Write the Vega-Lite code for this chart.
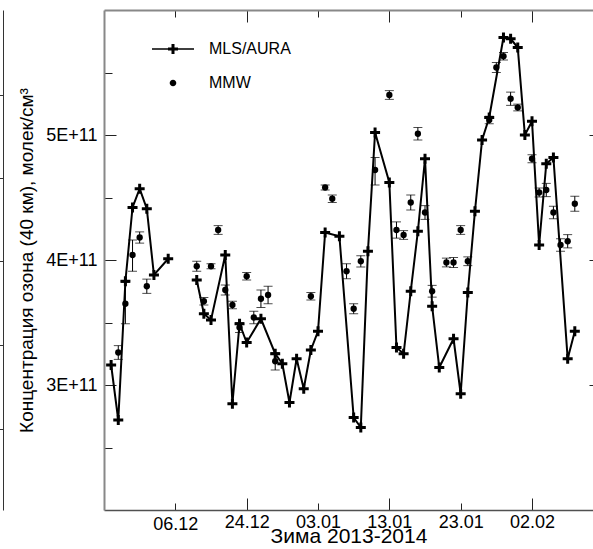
{
  "$schema": "https://vega.github.io/schema/vega-lite/v6.json",
  "width": 489,
  "height": 500,
  "autosize": {"type": "none"},
  "padding": {"left": 104, "top": 10, "right": 0, "bottom": 39},
  "background": "white",
  "config": {
    "font": "Liberation Sans",
    "view": {"stroke": null},
    "legend": {
      "orient": "none",
      "legendX": 61,
      "legendY": 31,
      "padding": 0,
      "labelFont": "Liberation Sans",
      "labelFontSize": 16,
      "labelColor": "black",
      "rowPadding": 18,
      "symbolSize": 100,
      "symbolOffset": 0,
      "labelOffset": 28,
      "labelLimit": 200
    }
  },
  "datasets": {
    "mls": [
      {"day": 5, "o3": 3.16e11, "seg": 1, "series": "MLS/AURA"},
      {"day": 6, "o3": 2.72e11, "seg": 1, "series": "MLS/AURA"},
      {"day": 7, "o3": 3.83e11, "seg": 1, "series": "MLS/AURA"},
      {"day": 8, "o3": 4.42e11, "seg": 1, "series": "MLS/AURA"},
      {"day": 9, "o3": 4.57e11, "seg": 1, "series": "MLS/AURA"},
      {"day": 10, "o3": 4.41e11, "seg": 1, "series": "MLS/AURA"},
      {"day": 11, "o3": 3.88e11, "seg": 1, "series": "MLS/AURA"},
      {"day": 13, "o3": 4.01e11, "seg": 1, "series": "MLS/AURA"},
      {"day": 17, "o3": 3.84e11, "seg": 2, "series": "MLS/AURA"},
      {"day": 18, "o3": 3.57e11, "seg": 2, "series": "MLS/AURA"},
      {"day": 19, "o3": 3.52e11, "seg": 2, "series": "MLS/AURA"},
      {"day": 21, "o3": 4.04e11, "seg": 2, "series": "MLS/AURA"},
      {"day": 22, "o3": 2.85e11, "seg": 2, "series": "MLS/AURA"},
      {"day": 23, "o3": 3.49e11, "seg": 2, "series": "MLS/AURA"},
      {"day": 24, "o3": 3.34e11, "seg": 2, "series": "MLS/AURA"},
      {"day": 26, "o3": 3.53e11, "seg": 2, "series": "MLS/AURA"},
      {"day": 28, "o3": 3.25e11, "seg": 2, "series": "MLS/AURA"},
      {"day": 29, "o3": 3.17e11, "seg": 2, "series": "MLS/AURA"},
      {"day": 30, "o3": 2.86e11, "seg": 2, "series": "MLS/AURA"},
      {"day": 31, "o3": 3.21e11, "seg": 2, "series": "MLS/AURA"},
      {"day": 32, "o3": 2.97e11, "seg": 2, "series": "MLS/AURA"},
      {"day": 33, "o3": 3.28e11, "seg": 2, "series": "MLS/AURA"},
      {"day": 34, "o3": 3.43e11, "seg": 2, "series": "MLS/AURA"},
      {"day": 35, "o3": 4.22e11, "seg": 2, "series": "MLS/AURA"},
      {"day": 37, "o3": 4.19e11, "seg": 2, "series": "MLS/AURA"},
      {"day": 39, "o3": 2.74e11, "seg": 2, "series": "MLS/AURA"},
      {"day": 40, "o3": 2.66e11, "seg": 2, "series": "MLS/AURA"},
      {"day": 41, "o3": 4.07e11, "seg": 2, "series": "MLS/AURA"},
      {"day": 42, "o3": 5.02e11, "seg": 2, "series": "MLS/AURA"},
      {"day": 44, "o3": 4.62e11, "seg": 2, "series": "MLS/AURA"},
      {"day": 45, "o3": 3.30e11, "seg": 2, "series": "MLS/AURA"},
      {"day": 46, "o3": 3.25e11, "seg": 2, "series": "MLS/AURA"},
      {"day": 47, "o3": 3.75e11, "seg": 2, "series": "MLS/AURA"},
      {"day": 48, "o3": 4.23e11, "seg": 2, "series": "MLS/AURA"},
      {"day": 49, "o3": 4.81e11, "seg": 2, "series": "MLS/AURA"},
      {"day": 50, "o3": 3.63e11, "seg": 2, "series": "MLS/AURA"},
      {"day": 51, "o3": 3.14e11, "seg": 2, "series": "MLS/AURA"},
      {"day": 53, "o3": 3.37e11, "seg": 2, "series": "MLS/AURA"},
      {"day": 54, "o3": 2.93e11, "seg": 2, "series": "MLS/AURA"},
      {"day": 55, "o3": 3.74e11, "seg": 2, "series": "MLS/AURA"},
      {"day": 56, "o3": 4.39e11, "seg": 2, "series": "MLS/AURA"},
      {"day": 57, "o3": 4.96e11, "seg": 2, "series": "MLS/AURA"},
      {"day": 58, "o3": 5.14e11, "seg": 2, "series": "MLS/AURA"},
      {"day": 60, "o3": 5.78e11, "seg": 2, "series": "MLS/AURA"},
      {"day": 61, "o3": 5.77e11, "seg": 2, "series": "MLS/AURA"},
      {"day": 62, "o3": 5.70e11, "seg": 2, "series": "MLS/AURA"},
      {"day": 63, "o3": 5.00e11, "seg": 2, "series": "MLS/AURA"},
      {"day": 64, "o3": 5.11e11, "seg": 2, "series": "MLS/AURA"},
      {"day": 65, "o3": 4.12e11, "seg": 2, "series": "MLS/AURA"},
      {"day": 66, "o3": 4.77e11, "seg": 2, "series": "MLS/AURA"},
      {"day": 67, "o3": 4.82e11, "seg": 2, "series": "MLS/AURA"},
      {"day": 69, "o3": 3.21e11, "seg": 2, "series": "MLS/AURA"},
      {"day": 70, "o3": 3.43e11, "seg": 2, "series": "MLS/AURA"}
    ],
    "mmw": [
      {"day": 6, "o3": 3.26e11, "lo": 3.205e11, "hi": 3.315e11, "series": "MMW"},
      {"day": 7, "o3": 3.65e11, "lo": 3.49e11, "hi": 3.82e11, "series": "MMW"},
      {"day": 8, "o3": 4.04e11, "lo": 3.91e11, "hi": 4.16e11, "series": "MMW"},
      {"day": 9, "o3": 4.18e11, "lo": 4.135e11, "hi": 4.225e11, "series": "MMW"},
      {"day": 10, "o3": 3.79e11, "lo": 3.733e11, "hi": 3.847e11, "series": "MMW"},
      {"day": 17, "o3": 3.95e11, "lo": 3.91e11, "hi": 3.99e11, "series": "MMW"},
      {"day": 18, "o3": 3.67e11, "lo": 3.64e11, "hi": 3.70e11, "series": "MMW"},
      {"day": 19, "o3": 3.95e11, "lo": 3.93e11, "hi": 3.97e11, "series": "MMW"},
      {"day": 20, "o3": 4.24e11, "lo": 4.205e11, "hi": 4.275e11, "series": "MMW"},
      {"day": 21, "o3": 3.76e11, "lo": 3.72e11, "hi": 3.80e11, "series": "MMW"},
      {"day": 22, "o3": 3.64e11, "lo": 3.61e11, "hi": 3.67e11, "series": "MMW"},
      {"day": 23, "o3": 3.46e11, "lo": 3.42e11, "hi": 3.50e11, "series": "MMW"},
      {"day": 24, "o3": 3.87e11, "lo": 3.84e11, "hi": 3.90e11, "series": "MMW"},
      {"day": 25, "o3": 3.54e11, "lo": 3.49e11, "hi": 3.59e11, "series": "MMW"},
      {"day": 26, "o3": 3.69e11, "lo": 3.62e11, "hi": 3.76e11, "series": "MMW"},
      {"day": 27, "o3": 3.72e11, "lo": 3.65e11, "hi": 3.79e11, "series": "MMW"},
      {"day": 28, "o3": 3.19e11, "lo": 3.12e11, "hi": 3.26e11, "series": "MMW"},
      {"day": 33, "o3": 3.71e11, "lo": 3.68e11, "hi": 3.74e11, "series": "MMW"},
      {"day": 35, "o3": 4.58e11, "lo": 4.56e11, "hi": 4.60e11, "series": "MMW"},
      {"day": 36, "o3": 4.49e11, "lo": 4.46e11, "hi": 4.52e11, "series": "MMW"},
      {"day": 38, "o3": 3.91e11, "lo": 3.85e11, "hi": 3.97e11, "series": "MMW"},
      {"day": 39, "o3": 3.61e11, "lo": 3.57e11, "hi": 3.65e11, "series": "MMW"},
      {"day": 40, "o3": 3.99e11, "lo": 3.945e11, "hi": 4.035e11, "series": "MMW"},
      {"day": 42, "o3": 4.72e11, "lo": 4.60e11, "hi": 4.82e11, "series": "MMW"},
      {"day": 44, "o3": 5.32e11, "lo": 5.285e11, "hi": 5.355e11, "series": "MMW"},
      {"day": 45, "o3": 4.24e11, "lo": 4.175e11, "hi": 4.305e11, "series": "MMW"},
      {"day": 46, "o3": 4.20e11, "lo": 4.165e11, "hi": 4.235e11, "series": "MMW"},
      {"day": 47, "o3": 4.46e11, "lo": 4.40e11, "hi": 4.52e11, "series": "MMW"},
      {"day": 48, "o3": 5.01e11, "lo": 4.96e11, "hi": 5.06e11, "series": "MMW"},
      {"day": 49, "o3": 4.38e11, "lo": 4.325e11, "hi": 4.435e11, "series": "MMW"},
      {"day": 50, "o3": 3.75e11, "lo": 3.703e11, "hi": 3.797e11, "series": "MMW"},
      {"day": 52, "o3": 3.98e11, "lo": 3.945e11, "hi": 4.015e11, "series": "MMW"},
      {"day": 53, "o3": 3.98e11, "lo": 3.94e11, "hi": 4.02e11, "series": "MMW"},
      {"day": 54, "o3": 4.24e11, "lo": 4.205e11, "hi": 4.275e11, "series": "MMW"},
      {"day": 55, "o3": 3.99e11, "lo": 3.955e11, "hi": 4.025e11, "series": "MMW"},
      {"day": 58, "o3": 5.12e11, "lo": 5.09e11, "hi": 5.15e11, "series": "MMW"},
      {"day": 59, "o3": 5.54e11, "lo": 5.50e11, "hi": 5.58e11, "series": "MMW"},
      {"day": 60, "o3": 5.63e11, "lo": 5.60e11, "hi": 5.66e11, "series": "MMW"},
      {"day": 61, "o3": 5.29e11, "lo": 5.237e11, "hi": 5.343e11, "series": "MMW"},
      {"day": 62, "o3": 5.22e11, "lo": 5.193e11, "hi": 5.247e11, "series": "MMW"},
      {"day": 64, "o3": 4.81e11, "lo": 4.778e11, "hi": 4.842e11, "series": "MMW"},
      {"day": 65, "o3": 4.54e11, "lo": 4.504e11, "hi": 4.576e11, "series": "MMW"},
      {"day": 66, "o3": 4.56e11, "lo": 4.507e11, "hi": 4.613e11, "series": "MMW"},
      {"day": 67, "o3": 4.38e11, "lo": 4.33e11, "hi": 4.43e11, "series": "MMW"},
      {"day": 68, "o3": 4.12e11, "lo": 4.07e11, "hi": 4.17e11, "series": "MMW"},
      {"day": 69, "o3": 4.15e11, "lo": 4.097e11, "hi": 4.203e11, "series": "MMW"},
      {"day": 70, "o3": 4.45e11, "lo": 4.39e11, "hi": 4.51e11, "series": "MMW"}
    ]
  },
  "layer": [
    {
      "data": {"name": "mls"},
      "mark": {"type": "line", "color": "black", "strokeWidth": 2},
      "encoding": {
        "x": {
          "field": "day", "type": "quantitative",
          "scale": {"domain": [4, 72.55], "nice": false, "zero": false},
          "axis": {
            "orient": "bottom",
            "values": [14, 24, 34, 44, 54, 64],
            "labelExpr": "datum.value == 14 ? '06.12' : datum.value == 24 ? '24.12' : datum.value == 34 ? '03.01' : datum.value == 44 ? '13.01' : datum.value == 54 ? '23.01' : '02.02'",
            "grid": false,
            "domainColor": "#505050",
            "domainWidth": 1.5,
            "tickColor": "#222222",
            "tickWidth": 1,
            "tickSize": {"condition": {"test": "datum.value % 20 == 4", "value": -12}, "value": -7},
            "labelPadding": {"condition": [{"test": "datum.value == 14", "value": 12}, {"test": "datum.value % 20 == 4", "value": 15}], "value": 10},
            "labelFontSize": 18,
            "labelColor": "black",
            "labelFlush": false,
            "labelOverlap": false,
            "title": "Зима 2013-2014",
            "titleFontSize": 21,
            "titleFontWeight": "normal",
            "titleColor": "black",
            "titlePadding": -8
          }
        },
        "y": {
          "field": "o3", "type": "quantitative",
          "scale": {"domain": [2e11, 6e11], "nice": false, "zero": false},
          "axis": {
            "orient": "left",
            "values": [2.5e11, 3e11, 3.5e11, 4e11, 4.5e11, 5e11, 5.5e11],
            "labelExpr": "datum.value % 1e11 == 0 ? format(datum.value / 1e11, 'd') + 'E+11' : ''",
            "grid": false,
            "domainColor": "#888888",
            "domainWidth": 2,
            "tickColor": "#222222",
            "tickWidth": 1,
            "tickSize": {"condition": {"test": "datum.value % 1e11 == 0", "value": -12}, "value": -8},
            "labelPadding": 19,
            "labelFontSize": 18,
            "labelColor": "black",
            "labelFlush": false,
            "labelOverlap": false,
            "title": "Концентрация озона (40 км), молек/см³",
            "titleFontSize": 19,
            "titleFontWeight": "normal",
            "titleColor": "black",
            "titlePadding": 9
          }
        },
        "detail": {"field": "seg", "type": "nominal"}
      }
    },
    {
      "data": {"name": "mls"},
      "mark": {"type": "point", "filled": true, "color": "black", "opacity": 1, "size": 100, "shape": "M-1,-0.3H-0.3V-1H0.3V-0.3H1V0.3H0.3V1H-0.3V0.3H-1Z"},
      "encoding": {
        "x": {
          "field": "day", "type": "quantitative",
          "axis": {
            "orient": "top",
            "values": [14, 24, 34, 44, 54, 64],
            "labels": false,
            "grid": false,
            "title": null,
            "domainColor": "#888888",
            "domainWidth": 2,
            "tickColor": "#222222",
            "tickWidth": 1,
            "tickSize": {"condition": {"test": "datum.value % 20 == 4", "value": -12}, "value": -7}
          }
        },
        "y": {
          "field": "o3", "type": "quantitative",
          "axis": {
            "orient": "right",
            "values": [3e11, 4e11, 5e11],
            "labels": false,
            "grid": false,
            "title": null,
            "domain": false,
            "tickColor": "#222222",
            "tickWidth": 1,
            "tickSize": -4
          }
        }
      }
    },
    {
      "data": {"name": "mmw"},
      "mark": {
        "type": "errorbar",
        "color": "black",
        "ticks": {"size": 9, "color": "black"},
        "rule": {"color": "black", "strokeWidth": 1}
      },
      "encoding": {
        "x": {"field": "day", "type": "quantitative", "axis": null},
        "y": {
          "field": "lo", "type": "quantitative",
          "axis": {
            "orient": "left",
            "offset": 101,
            "values": [2.65e11, 3.32e11, 3.99e11, 4.652e11, 5.322e11],
            "labels": false,
            "grid": false,
            "title": null,
            "domainColor": "#333333",
            "domainWidth": 1,
            "tickColor": "#333333",
            "tickWidth": 1,
            "tickSize": 4
          }
        },
        "y2": {"field": "hi"}
      }
    },
    {
      "data": {"name": "mmw"},
      "mark": {"type": "point", "filled": true, "color": "black", "opacity": 1, "size": 40, "shape": "circle"},
      "encoding": {
        "x": {"field": "day", "type": "quantitative", "axis": null},
        "y": {"field": "o3", "type": "quantitative", "axis": null}
      }
    },
    {
      "data": {"name": "mmw"},
      "transform": [{"filter": "false"}],
      "mark": {"type": "point", "filled": true, "color": "black", "opacity": 1, "size": 100},
      "encoding": {
        "shape": {
          "field": "series", "type": "nominal",
          "scale": {
            "domain": ["MLS/AURA", "MMW"],
            "range": [
              "M-4.2,-0.15H-1V-0.3H-0.3V-1H0.3V-0.3H1V-0.15H4.2V0.15H1V0.3H0.3V1H-0.3V0.3H-1V0.15H-4.2Z",
              "M-0.66,0A0.66,0.66,0,1,1,0.66,0A0.66,0.66,0,1,1,-0.66,0Z"
            ]
          },
          "legend": {"title": null}
        }
      }
    }
  ],
  "resolve": {"axis": {"x": "independent", "y": "independent"}}
}
